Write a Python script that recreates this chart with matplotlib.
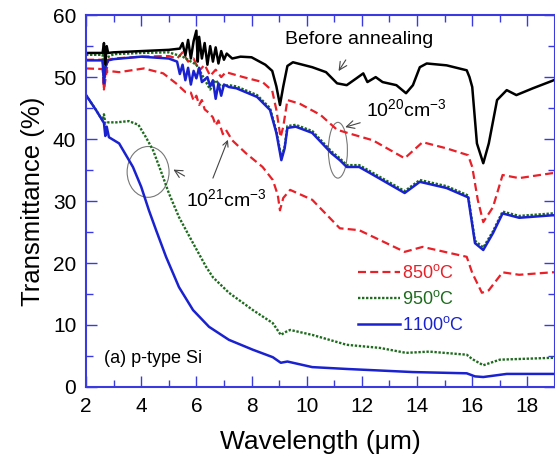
import matplotlib
matplotlib.use("Agg")
import matplotlib.pyplot as plt
from matplotlib.patches import Ellipse

plt.rcParams["font.family"] = ["Liberation Sans", "DejaVu Sans"]
plt.rcParams["mathtext.fontset"] = "custom"
plt.rcParams["mathtext.rm"] = "Liberation Sans"

# before annealing
black_x = [2.0, 2.6, 2.65, 2.7, 2.75, 2.8, 3.0, 4.0, 5.0, 5.4, 5.5, 5.6, 5.7, 5.8, 5.9, 6.0, 6.05, 6.1,
           6.2, 6.3, 6.4, 6.5, 6.6, 6.7, 6.8, 6.9, 7.0, 7.1, 7.3, 7.6, 8.0, 8.5, 8.75, 8.9, 9.03, 9.15,
           9.3, 9.5, 10.2, 10.7, 11.1, 11.45, 11.8, 12.05, 12.2, 12.5, 12.75, 13.25, 13.6, 13.85, 14.1,
           14.35, 15.07, 15.8, 15.9, 16.0, 16.17, 16.4, 16.6, 16.9, 17.25, 17.6, 18.2, 18.9, 19.0]
black_y = [53.9, 53.9, 55.5, 52.0, 55.0, 53.9, 54.0, 54.2, 54.4, 54.6, 55.5, 53.5, 56.0, 53.0, 55.8, 57.5, 52.5, 56.5,
           53.0, 55.5, 52.0, 55.0, 52.5, 54.8, 52.2, 54.2, 52.8, 53.8, 53.0, 53.3, 53.2, 52.0, 51.0, 48.5, 45.5, 48.5,
           51.8, 52.4, 51.6, 50.8, 49.0, 48.7, 49.8, 50.6, 49.2, 50.0, 49.2, 48.7, 47.4, 48.7, 51.6,
           52.2, 51.9, 51.1, 50.0, 48.4, 39.3, 36.1, 39.3, 46.3, 47.9, 47.1, 48.2, 49.4, 49.6]

# 850 C, 1e20
red20_x = [2.0, 2.6, 2.65, 2.7, 2.8, 3.0, 4.0, 5.0, 5.3, 5.5, 5.7, 5.9, 6.1, 6.3, 6.5, 6.7, 6.9, 7.07, 7.7, 8.4,
           8.75, 8.9, 9.05, 9.15, 9.3, 9.75, 10.5, 11.1, 11.55, 12.4, 13.55, 14.2, 15.07, 15.85, 16.0, 16.2,
           16.4, 16.75, 17.1, 17.7, 18.9, 19.0]
red20_y = [52.8, 52.8, 48.0, 49.5, 52.8, 53.0, 53.3, 53.4, 53.0, 54.0, 52.5, 53.0, 51.0, 52.0, 50.2, 51.2, 50.0, 50.8, 50.0, 49.2,
           47.8, 44.7, 40.3, 42.0, 46.3, 45.7, 43.9, 41.5, 40.9, 39.8, 36.9, 39.5, 38.5, 37.4, 35.5, 30.2,
           26.6, 29.0, 34.2, 33.7, 34.5, 34.5]

# 850 C, 1e21
red21_x = [2.0, 2.6, 2.65, 2.7, 2.8, 3.2, 4.1, 4.8, 5.26, 5.6, 5.8, 5.9, 6.0, 6.1, 6.2, 6.3, 6.46, 6.6, 6.7, 6.8,
           6.96, 7.07, 7.3, 7.8, 8.4, 8.77, 8.95, 9.03, 9.15, 9.4, 10.2, 11.2, 11.9, 13.55, 14.2, 15.8, 16.0,
           16.35, 16.6, 17.1, 17.7, 18.9, 19.0]
red21_y = [51.4, 51.3, 48.0, 50.5, 51.0, 50.8, 51.4, 50.6, 49.0, 47.6, 47.5, 46.2, 47.0, 45.5, 46.3, 44.8, 44.2, 43.5, 42.2, 43.0,
           40.8, 41.5, 39.8, 37.7, 35.5, 33.4, 31.0, 28.5, 30.5, 31.8, 30.2, 25.6, 25.3, 21.8, 22.6, 21.0, 18.4,
           15.2, 15.6, 18.5, 18.1, 18.5, 18.5]

# 950 C, 1e20
green20_x = [2.0, 2.6, 2.65, 2.7, 3.0, 4.0, 5.0, 5.5, 6.0, 6.5, 6.7, 6.9, 7.18, 7.45, 8.2, 8.67, 8.9, 9.08, 9.2,
             9.3, 9.6, 10.2, 10.9, 11.2, 11.45, 11.9, 12.3, 13.55, 14.1, 15.07, 15.85, 16.1, 16.4, 16.75,
             17.1, 17.7, 18.9, 19.0]
green20_y = [53.6, 53.6, 50.0, 53.0, 53.7, 53.9, 54.0, 53.3, 52.0, 48.0, 49.5, 48.5, 48.7, 48.5, 47.1, 45.0, 41.3, 37.0, 38.8,
             42.1, 42.3, 41.3, 38.0, 36.9, 35.8, 35.8, 34.8, 31.6, 33.4, 32.4, 30.9, 23.6, 22.5, 25.1,
             28.3, 27.6, 28.0, 28.0]

# 950 C, 1e21
green21_x = [2.0, 2.36, 2.6, 2.65, 2.7, 2.8, 3.1, 3.55, 3.9, 4.17, 4.43, 4.7, 5.0, 5.37, 5.88, 6.35, 6.6, 7.18,
             8.05, 8.77, 9.06, 9.25, 9.4, 10.2, 11.45, 12.65, 13.6, 14.45, 15.8, 16.0, 16.4, 17.0, 18.9, 19.0]
green21_y = [47.1, 44.7, 43.0, 44.0, 42.5, 42.7, 42.7, 42.9, 42.3, 40.3, 38.2, 35.0, 31.3, 27.4, 23.2, 19.4, 17.7, 15.2,
             12.4, 10.3, 8.4, 8.9, 9.2, 8.4, 6.8, 6.3, 5.5, 5.7, 5.2, 4.5, 3.5, 4.4, 4.7, 4.7]

# 1100 C, 1e20
blue20_x = [2.0, 2.6, 2.65, 2.7, 2.8, 3.0, 4.0, 5.0, 5.3, 5.4, 5.5, 5.6, 5.7, 5.8, 5.9, 6.0, 6.1, 6.2, 6.4, 6.5,
            6.6, 6.7, 6.8, 6.9, 7.0, 7.18, 7.45, 8.2, 8.67, 8.9, 9.08, 9.2, 9.3, 9.6, 10.2, 10.9, 11.2, 11.45,
            11.9, 12.3, 13.55, 14.1, 15.07, 15.85, 16.1, 16.4, 16.75, 17.1, 17.7, 18.9, 19.0]
blue20_y = [52.7, 52.7, 49.0, 51.5, 52.7, 52.9, 53.3, 53.0, 52.5, 50.5, 52.0, 49.5, 51.5, 48.8, 51.0, 49.8, 51.5, 49.2, 50.0, 48.5,
            49.5, 46.5, 49.0, 47.0, 48.8, 48.4, 48.2, 46.8, 44.7, 41.0, 36.6, 38.5, 41.8, 42.0, 41.0, 37.7, 36.6, 35.5,
            35.5, 34.5, 31.3, 33.1, 32.1, 30.6, 23.2, 22.1, 24.8, 28.0, 27.3, 27.7, 27.7]

# 1100 C, 1e21
blue21_x = [2.0, 2.36, 2.65, 2.7, 2.75, 2.83, 3.2, 3.7, 4.0, 4.28, 4.54, 4.9, 5.37, 5.88, 6.46, 7.18, 8.05, 8.77,
            9.06, 9.3, 10.2, 11.45, 13.85, 15.8, 16.1, 16.4, 17.25, 18.9, 19.0]
blue21_y = [47.1, 44.7, 42.6, 40.5, 42.0, 40.3, 39.3, 35.5, 32.3, 28.5, 25.3, 21.0, 16.1, 12.4, 9.7, 7.6, 6.0, 4.8,
            3.9, 4.1, 3.2, 2.9, 2.4, 2.2, 1.7, 1.6, 2.1, 2.1, 2.1]

RED = "#e82028"
GREEN = "#1d6b1d"
BLUE = "#1a22d0"
SPINE = "#3a3ae0"

fig = plt.figure(figsize=(5.55, 4.59), dpi=100)
ax = fig.add_axes([0.155, 0.157, 0.845, 0.81])

red_ls = (0, (3.6, 1.9))
green_ls = (0, (1.0, 0.7))
ax.plot(red20_x, red20_y, color=RED, lw=1.6, ls=red_ls)
ax.plot(red21_x, red21_y, color=RED, lw=1.6, ls=red_ls, label="850$^{\\mathregular{o}}$C")
ax.plot(green20_x, green20_y, color=GREEN, lw=1.7, ls=green_ls)
ax.plot(green21_x, green21_y, color=GREEN, lw=1.7, ls=green_ls, label="950$^{\\mathregular{o}}$C")
ax.plot(blue20_x, blue20_y, color=BLUE, lw=1.8)
ax.plot(blue21_x, blue21_y, color=BLUE, lw=1.8, label="1100$^{\\mathregular{o}}$C")
ax.plot(black_x, black_y, color="black", lw=1.8)

ax.set_xlim(2, 19)
ax.set_ylim(0, 60)
ax.set_xticks(range(2, 20, 2))
ax.set_xticks(range(2, 20), minor=True)
ax.set_yticks(range(0, 61, 10))
ax.set_yticks(range(0, 61, 5), minor=True)
ax.tick_params(which="both", direction="in", top=True, right=True, color=SPINE, labelsize=15, width=1)
ax.tick_params(which="major", length=8, pad=7)
ax.tick_params(which="minor", length=5)
for s in ax.spines.values():
    s.set_color(SPINE)
    s.set_linewidth(1.5)

ax.set_xlabel("Wavelength (\u03bcm)", fontsize=19, labelpad=10)
ax.set_ylabel("Transmittance (%)", fontsize=18.5, labelpad=6)

arrow = dict(arrowstyle="->", color="#444444", lw=0.8)
ax.annotate("Before annealing", xy=(11.1, 50.6), xytext=(11.9, 56.1), fontsize=14,
            ha="center", va="center", arrowprops=dict(arrow, shrinkA=8))
ax.annotate("10$^{\\mathregular{20}}$cm$^{\\mathregular{-3}}$", xy=(11.3, 41.8), xytext=(13.6, 44.8),
            fontsize=14, ha="center", va="center", arrowprops=dict(arrow, shrinkA=2))
ax.annotate("10$^{\\mathregular{21}}$cm$^{\\mathregular{-3}}$", xy=(5.08, 35.3), xytext=(7.07, 30.2),
            fontsize=14, ha="center", va="center", arrowprops=dict(arrow, shrinkA=14))
ax.annotate("", xy=(7.18, 40.3), xytext=(6.6, 33.7), arrowprops=dict(arrow, shrinkA=0))
ax.add_patch(Ellipse((11.13, 38.2), 0.69, 9.0, fill=False, ec="#777777", lw=0.8))
ax.add_patch(Ellipse((4.25, 34.7), 1.52, 8.2, fill=False, ec="#777777", lw=0.8))

ax.text(2.65, 4.6, "(a) p-type Si", fontsize=13, ha="left", va="center")

leg = ax.legend(loc="upper left", bbox_to_anchor=(0.58, 0.33), frameon=False, fontsize=13,
                handlelength=2.3, handletextpad=0.15, labelspacing=0.45, borderpad=0, borderaxespad=0)
for t, line in zip(leg.get_texts(), leg.get_lines()):
    t.set_color(line.get_color())

fig.savefig("out.png", dpi=100)
